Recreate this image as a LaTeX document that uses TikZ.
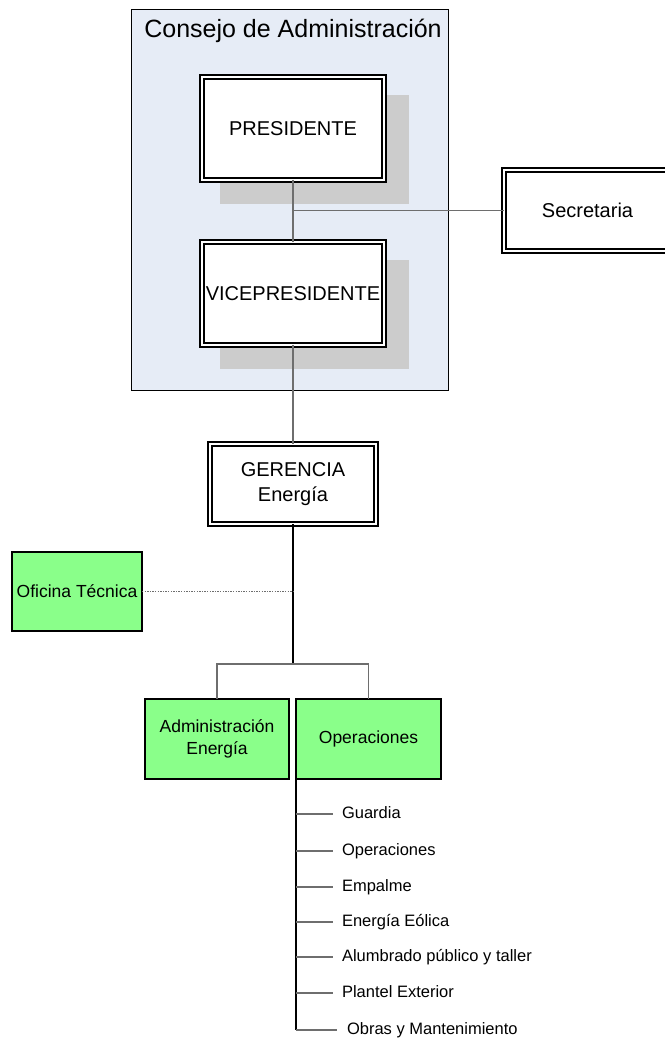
\documentclass[tikz,border=0pt]{standalone}
\usepackage{fontspec}
\setmainfont{Liberation Sans}
\usetikzlibrary{backgrounds,calc}
\definecolor{boardfill}{RGB}{230,236,246}
\definecolor{shadowgray}{RGB}{204,204,204}
\definecolor{unitgreen}{RGB}{138,255,138}
\definecolor{linkgray}{RGB}{110,110,110}
\begin{document}
\begin{tikzpicture}[x=1pt,y=-1pt,
  office/.style={draw=black, double=white, double distance=2.4pt, line width=1.8pt,
    fill=white, inner sep=0pt, outer sep=0pt, align=center,
    font=\fontsize{20}{25}\selectfont},
  unit/.style={draw=black, line width=1.3pt, fill=unitgreen, inner sep=0pt,
    outer sep=0pt, align=center, font=\fontsize{17.5}{22}\selectfont},
  link/.style={draw=linkgray, line width=1.2pt},
  trunk/.style={draw=black, line width=2pt},
  stem/.style={draw=black, line width=1.4pt},
  item/.style={anchor=west, inner sep=0pt, outer sep=0pt, text height=12pt,
    text depth=3.5pt, font=\fontsize{16.5}{20}\selectfont},
  shade/.style={fill=shadowgray}]
\useasboundingbox (0,0) rectangle (664,1043);

% Board of directors
\node[font=\fontsize{25}{30}\selectfont, inner sep=0pt, anchor=base] (title) at (293,38) {Consejo de Administración};
\node[office, minimum width=182pt, minimum height=103pt] (pres) at (293,128.5) {PRESIDENTE};
\node[office, minimum width=182pt, minimum height=103pt] (vice) at (293,293.5) {VICEPRESIDENTE};
\node[office, minimum width=167pt, minimum height=81pt] (secr) at (587.5,210.5) {Secretaria};

% Management
\node[office, minimum width=166pt, minimum height=80pt] (ger) at (293,484) {GERENCIA\\Energía};

% Units
\node[unit, minimum width=130pt, minimum height=79pt] (ofic) at (77,591.5) {Oficina Técnica};
\node[unit, minimum width=144pt, minimum height=80pt] (admin) at (217,739) {Administración\\Energía};
\node[unit, minimum width=145pt, minimum height=80pt] (oper) at (368.5,739) {Operaciones};

% Sections under Operaciones
\node[item] (s1) at (342,814) {Guardia};
\node[item] (s2) at (342,851) {Operaciones};
\node[item] (s3) at (342,887) {Empalme};
\node[item] (s4) at (342,922) {Energía Eólica};
\node[item] (s5) at (342,957) {Alumbrado público y taller};
\node[item] (s6) at (342,993) {Plantel Exterior};
\node[item] (s7) at (347,1030) {Obras y Mantenimiento};

\coordinate (bar) at (293,664);

% Connectors
\draw[link] (pres.south) -- (vice.north);
\draw[link] (pres.south |- secr.west) -- (secr.west);
\draw[link] (vice.south) -- (ger.north);
\draw[trunk] (ger.south) -- (bar);
\draw[link, dash pattern=on 1.3pt off 1.3pt] (ofic.east) -- (ofic.east -| bar);
\draw[link] (admin.north) |- (bar) -| (oper.north);
\draw[stem] (oper.south west) -- (oper.south west |- s7.west);
\foreach \s in {s1,s2,s3,s4,s5,s6}
  \draw[link] (oper.south west |- \s.west) -- ([xshift=-9pt]\s.west);
\draw[link] (oper.south west |- s7.west) -- ([xshift=-10pt]s7.west);

% Board frame and drop shadows behind the boxes
\begin{scope}[on background layer]
  \node[draw=black, line width=0.9pt, fill=boardfill, minimum width=317pt,
    minimum height=381pt, inner sep=0pt, outer sep=0pt] (board) at (289.5,199.5) {};
  \fill[shade] ([shift={(18,18)}]pres.north west) rectangle ([shift={(25,24)}]pres.south east);
  \fill[shade] ([shift={(18,18)}]vice.north west) rectangle ([shift={(25,24)}]vice.south east);
\end{scope}
\end{tikzpicture}
\end{document}
